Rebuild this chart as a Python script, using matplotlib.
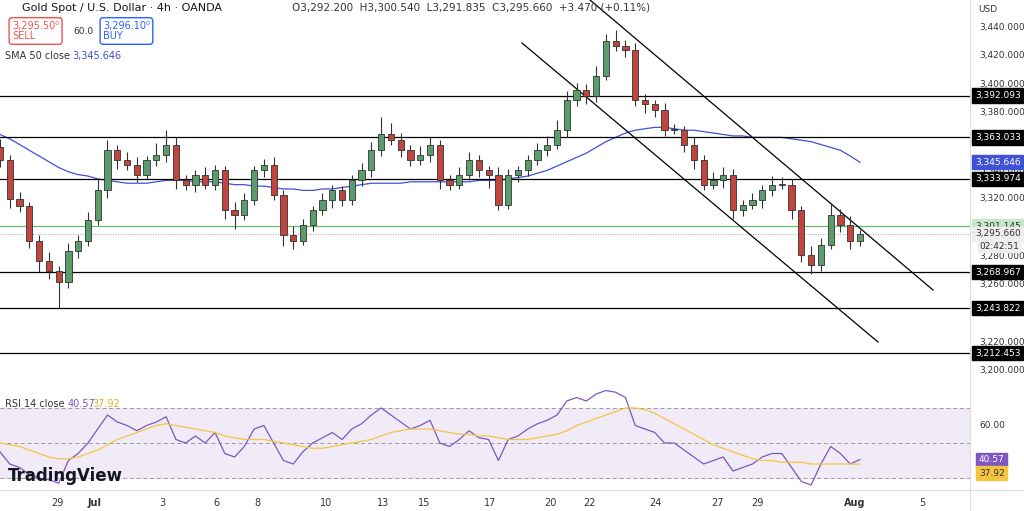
import matplotlib
matplotlib.use("Agg")
import matplotlib.pyplot as plt
from matplotlib.patches import Rectangle

closes = [3347,3320,3315,3291,3277,3270,3262,3284,3291,3305,3326,3354,3347,3344,3337,3347,3351,3358,3333,3330,
          3337,3330,3340,3312,3309,3319,3340,3344,3323,3295,3291,3302,3312,3319,3326,3319,3333,3340,3354,3365,
          3361,3354,3347,3351,3358,3333,3330,3337,3347,3340,3337,3316,3337,3340,3347,3354,3358,3368,3389,3396,
          3392,3406,3430,3427,3424,3389,3386,3382,3368,3368,3358,3347,3330,3333,3337,3312,3316,3319,3326,3330,
          3330,3312,3281,3274,3288,3309,3302,3291,3295.66]
first_open = 3356
up_wick = [6,4,5,3,4,6,3,5,4,6,8,7,4,6,5,3,8,10,5,4,3,5,4,3,6,5,3,4,5,3,6,4,3,5,4,3,4,5,6,12,
           8,5,4,6,5,3,4,5,6,4,3,5,4,3,4,5,6,7,6,5,4,7,5,8,4,5,4,3,5,4,3,5,4,6,5,4,3,5,4,6,
           5,4,3,6,5,8,4,6,3]
low_wick = [5,6,4,5,8,6,18,4,5,4,3,5,6,4,5,3,4,5,6,4,5,3,4,6,10,4,3,5,4,8,6,3,4,3,5,4,3,4,5,4,
            3,5,4,3,5,6,4,3,4,5,9,4,3,5,4,3,4,3,5,4,6,4,3,4,5,4,6,5,4,3,5,6,4,3,5,6,4,3,5,4,
            3,6,5,6,4,3,5,6,4]
sma = [3365,3362,3358,3354,3350,3346,3342,3339,3337,3336,3334,3333,3332,3331,3331,3331,3332,3333,3333,3333,
       3332,3332,3332,3331,3330,3330,3329,3329,3328,3327,3327,3326,3326,3327,3327,3328,3329,3330,3331,3331,
       3331,3331,3332,3332,3332,3332,3332,3332,3332,3333,3333,3333,3334,3335,3336,3338,3340,3343,3346,3349,
       3352,3356,3360,3363,3366,3368,3369,3370,3370,3369,3368,3368,3367,3366,3365,3364,3364,3363,3363,3363,
       3363,3362,3361,3360,3358,3356,3354,3350,3345.6]
rsi = [45,38,36,32,30,29,27,40,44,50,58,66,62,60,57,60,62,65,52,50,
       54,50,56,44,42,48,58,60,50,40,38,45,50,53,56,52,58,61,66,70,
       66,62,58,60,63,50,48,52,57,53,52,40,52,54,58,61,63,66,74,76,
       74,78,80,79,76,60,58,56,50,50,46,42,38,40,42,34,36,38,42,44,
       44,36,28,26,38,48,44,38,40.57]
rsi_ma = [50,49,48,46,44,42,41,41,42,44,46,49,52,54,56,58,60,61,60,59,
          58,57,56,54,53,52,52,52,51,50,49,48,47,47,48,49,50,51,52,54,
          56,57,58,58,58,57,56,55,55,54,54,53,52,52,52,53,54,55,57,60,
          62,64,66,68,70,70,69,67,64,61,58,55,52,49,47,45,43,41,40,40,
          39,39,39,38,38,38,38,38,37.92]
levels = [3392.093, 3363.033, 3333.974, 3268.967, 3243.822, 3212.453]
price_ticks = [3440,3420,3400,3380,3360,3340,3320,3300,3280,3260,3240,3220,3200]
date_labels = ["29","Jul","3","6","8","10","13","15","17","20","22","24","27","29","Aug","5"]
date_px = [57,95,162,216,257,326,383,424,490,550,590,655,717,757,855,922]
chan_upper = [(590,3440+27/1.4333),(933,3440-(290-27)/1.4333)]
chan_lower = [(522,3440-(43-27)/1.4333),(878,3440-(342-27)/1.4333)]

n = len(closes)
sp = 860/(n-1)
def xi(px): return px/sp

fig = plt.figure(figsize=(10.24,5.11), dpi=100)
W = 970/1024
ax = fig.add_axes([0, 1-390/511, W, 390/511])
ax2 = fig.add_axes([0, 1-490/511, W, 100/511])
ylo = 3440-(390-27)/1.4333; yhi = 3440+27/1.4333
ax.set_ylim(ylo, yhi); ax.set_xlim(0, 970/sp)
ax2.set_xlim(0, 970/sp)
r_top = 70+(408-390)/1.75; r_bot = 70-(490-408)/1.75
ax2.set_ylim(r_bot, r_top)
for a in (ax, ax2):
    for s in a.spines.values(): s.set_visible(False)
    a.set_xticks([]); a.set_yticks([])

gc="#5b9c6c"; rc="#c0453f"; red="#ef5350"
o = first_open
for i,c in enumerate(closes):
    col = gc if c>=o else rc
    hi = max(o,c)+up_wick[i]; lo = min(o,c)-low_wick[i]
    ax.vlines(i, lo, hi, color="#333333", lw=0.8, zorder=3)
    ax.add_patch(Rectangle((i-0.32, min(o,c)), 0.64, max(abs(c-o),0.6), facecolor=col, edgecolor="#333333", lw=0.6, zorder=4))
    o = c
ax.plot(range(n), sma, color="#3f51d5", lw=0.9, zorder=2)
for lv in levels:
    ax.axhline(lv, color="black", lw=0.9)
ax.axhline(3301.145, color="#66bb6a", lw=0.9)
ax.axhline(3295.66, color="#888", lw=0.6, ls=(0,(1,2)))
for ch in (chan_upper, chan_lower):
    ax.plot([xi(ch[0][0]), xi(ch[1][0])], [ch[0][1], ch[1][1]], color="black", lw=0.9)

FS = 6.5
def fy(p): return 1-(27+(3440-p)*1.4333)/511
for p in price_ticks:
    fig.text(979/1024, fy(p), f"{p:,}.000", fontsize=FS, color="#333", va="center", zorder=1)
def tag(p, txt, fc, tc="white"):
    fig.text(975/1024, fy(p), txt, fontsize=FS, color=tc, va="center", zorder=5,
             bbox=dict(boxstyle="square,pad=0.3", fc=fc, ec=fc))
for lv in levels: tag(lv, f"{lv:,.3f}", "black")
tag(3345.646, "3,345.646", "#3f51d5")
tag(3301.145, "3,301.145", "#c8e6c9", "#333")
tag(3295.66, "3,295.660", "#eeeeee", "#333")
fig.text(979/1024, fy(3287.0), "02:42:51", fontsize=FS, color="#333", va="center", zorder=6,
         bbox=dict(boxstyle="square,pad=0.15", fc="#eeeeee", ec="#eeeeee"))
fig.text(978/1024, 1-9/511, "USD", fontsize=FS, color="#333", va="center")
fig.add_artist(plt.Line2D([970/1024]*2, [0,1], color="#ddd", lw=0.8))

ax2.axhspan(30, 70, color="#ede7f6", alpha=0.8)
for lv in (70, 50, 30):
    ax2.axhline(lv, color="#999", lw=0.7, ls=(0,(4,3)))
ax2.plot(range(n), rsi, color="#7e57c2", lw=0.9)
ax2.plot(range(n), rsi_ma, color="#f5c542", lw=0.9)
fig.text(979/1024, 1-426/511, "60.00", fontsize=FS, color="#333", va="center")
fig.text(979/1024, 1-460/511, "40.57", fontsize=FS, color="white", va="center",
         bbox=dict(boxstyle="square,pad=0.3", fc="#7e57c2", ec="#7e57c2"))
fig.text(979/1024, 1-473/511, "37.92", fontsize=FS, color="#333", va="center",
         bbox=dict(boxstyle="square,pad=0.3", fc="#f5c542", ec="#f5c542"))
fig.text(5/1024, 1-404/511, "RSI 14 close", fontsize=7, color="#333", va="center")
fig.text(68/1024, 1-404/511, "40.57", fontsize=7, color="#7e57c2", va="center")
fig.text(92/1024, 1-404/511, "37.92", fontsize=7, color="#e0b020", va="center")
fig.text(8/1024, 1-476/511, "TradingView", fontsize=12, color="#131722", weight="bold", va="center")

for lab, px in zip(date_labels, date_px):
    fig.text(px/1024, 1-503/511, lab, fontsize=7, color="#333", ha="center", va="center",
             weight="bold" if lab in ("Jul","Aug") else "normal")
fig.add_artist(plt.Line2D([0, 1], [1-490/511]*2, color="#ddd", lw=0.8))

fig.text(22/1024, 1-8/511, "Gold Spot / U.S. Dollar · 4h · OANDA", fontsize=8, color="#131722", va="center")
fig.text(292/1024, 1-8/511, "O3,292.200  H3,300.540  L3,291.835  C3,295.660  +3.470 (+0.11%)", fontsize=7.5, color="#333", va="center")
fig.text(12/1024, 1-31/511, "3,295.50⁰\nSELL", fontsize=7, color=red, va="center", ha="left", linespacing=1.1,
         bbox=dict(boxstyle="round,pad=0.3", fc="white", ec=red))
fig.text(73/1024, 1-31/511, "60.0", fontsize=6.5, color="#333", va="center")
fig.text(103/1024, 1-31/511, "3,296.10⁰\nBUY", fontsize=7, color="#2962ff", va="center", ha="left", linespacing=1.1,
         bbox=dict(boxstyle="round,pad=0.3", fc="white", ec="#2962ff"))
fig.text(5/1024, 1-56/511, "SMA 50 close", fontsize=7, color="#333", va="center")
fig.text(72/1024, 1-56/511, "3,345.646", fontsize=7, color="#3f51d5", va="center")

fig.savefig("out.png", dpi=100, facecolor="white")
